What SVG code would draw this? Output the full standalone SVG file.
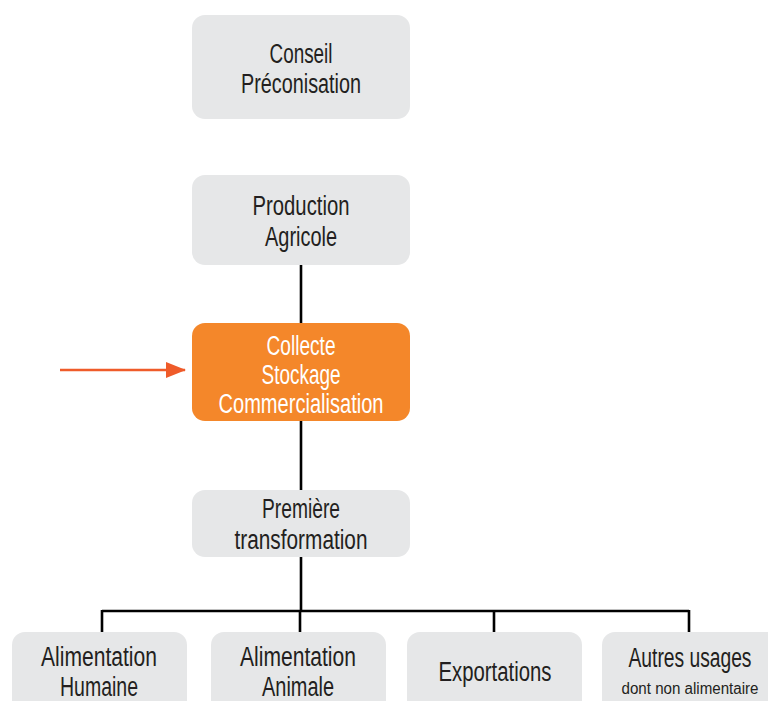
<svg xmlns="http://www.w3.org/2000/svg" width="768" height="701" viewBox="0 0 768 701">
  <defs>
    <marker id="arrowHead" markerWidth="20" markerHeight="16" refX="19" refY="8" orient="auto" markerUnits="userSpaceOnUse">
      <path d="M0,0 L20,8 L0,16 Z" fill="#ef5b2a"/>
    </marker>
    <style>
      .box { fill: #e6e7e8; }
      .hot { fill: #f4872a; }
      .lbl { font-family: "Liberation Sans", Arial, sans-serif; font-size: 27px; fill: #231f20; text-anchor: middle; }
      .lbl.white { fill: #ffffff; }
      .small { font-size: 16px; }
      .wire { stroke: #000000; stroke-width: 2.6; fill: none; }
    </style>
  </defs>
  <rect width="768" height="701" fill="#ffffff"/>

  <g id="connectors">
    <path class="wire" d="M301,265 V323 M301,421 V490 M301,557 V611 M102,611 H689 M102,610 V632 M300,611 V632 M494,611 V632 M689,610 V632"/>
    <line x1="60" y1="370" x2="185" y2="370" stroke="#ef5b2a" stroke-width="2.4" marker-end="url(#arrowHead)"/>
  </g>

  <g id="conseil">
    <rect class="box" x="192" y="15" width="218" height="104" rx="13"/>
    <text class="lbl" x="301" y="63" textLength="63" lengthAdjust="spacingAndGlyphs">Conseil</text>
    <text class="lbl" x="301" y="93" textLength="120" lengthAdjust="spacingAndGlyphs">Préconisation</text>
  </g>

  <g id="production">
    <rect class="box" x="192" y="175" width="218" height="90" rx="13"/>
    <text class="lbl" x="301" y="215" textLength="97" lengthAdjust="spacingAndGlyphs">Production</text>
    <text class="lbl" x="301" y="246" textLength="72" lengthAdjust="spacingAndGlyphs">Agricole</text>
  </g>

  <g id="collecte">
    <rect class="hot" x="192" y="323" width="218" height="98" rx="13"/>
    <text class="lbl white" x="301" y="355" textLength="69" lengthAdjust="spacingAndGlyphs">Collecte</text>
    <text class="lbl white" x="301" y="384" textLength="79" lengthAdjust="spacingAndGlyphs">Stockage</text>
    <text class="lbl white" x="301" y="413" textLength="165" lengthAdjust="spacingAndGlyphs">Commercialisation</text>
  </g>

  <g id="transformation">
    <rect class="box" x="192" y="490" width="218" height="67" rx="13"/>
    <text class="lbl" x="301" y="518" textLength="78" lengthAdjust="spacingAndGlyphs">Première</text>
    <text class="lbl" x="301" y="549" textLength="133" lengthAdjust="spacingAndGlyphs">transformation</text>
  </g>

  <g id="alim-humaine">
    <rect class="box" x="12" y="632" width="175" height="90" rx="13"/>
    <text class="lbl" x="99" y="666" textLength="116" lengthAdjust="spacingAndGlyphs">Alimentation</text>
    <text class="lbl" x="99" y="696" textLength="78" lengthAdjust="spacingAndGlyphs">Humaine</text>
  </g>

  <g id="alim-animale">
    <rect class="box" x="211" y="632" width="175" height="90" rx="13"/>
    <text class="lbl" x="298" y="666" textLength="116" lengthAdjust="spacingAndGlyphs">Alimentation</text>
    <text class="lbl" x="298" y="696" textLength="72" lengthAdjust="spacingAndGlyphs">Animale</text>
  </g>

  <g id="exportations">
    <rect class="box" x="407" y="632" width="175" height="90" rx="13"/>
    <text class="lbl" x="495" y="681" textLength="113" lengthAdjust="spacingAndGlyphs">Exportations</text>
  </g>

  <g id="autres-usages">
    <rect class="box" x="602" y="632" width="180" height="90" rx="13"/>
    <text class="lbl" x="690" y="667" textLength="123" lengthAdjust="spacingAndGlyphs">Autres usages</text>
    <text class="lbl small" x="690" y="694" textLength="137" lengthAdjust="spacingAndGlyphs">dont non alimentaire</text>
  </g>
</svg>
